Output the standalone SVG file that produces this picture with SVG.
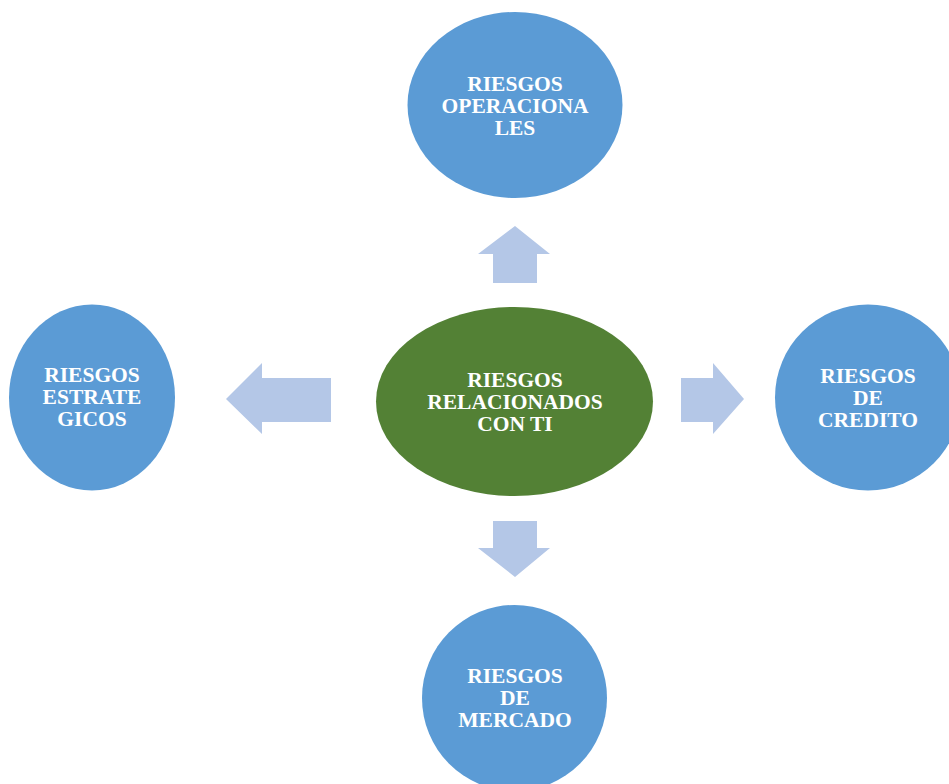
<svg xmlns="http://www.w3.org/2000/svg" width="949" height="784" viewBox="0 0 949 784">
<style>
.blue{fill:#5B9BD5}
.green{fill:#538135}
.arr{fill:#B4C7E7}
text{font-family:"Liberation Serif","Times New Roman",serif;font-weight:bold;font-size:21.5px;fill:#FFFFFF;text-anchor:middle}
</style>
<rect width="949" height="784" fill="#FFFFFF"/>
<g id="connectors">
<polygon class="arr" points="515,226 550,254 537,254 537,283 493,283 493,254 478,254"/>
<polygon class="arr" points="515,577 550,548 537,548 537,521 493,521 493,548 478,548"/>
<polygon class="arr" points="226,399 262,363 262,378 331,378 331,422 262,422 262,434"/>
<polygon class="arr" points="744,399 713,363 713,378 681,378 681,422 713,422 713,434"/>
</g>
<g id="center">
<ellipse class="green" cx="514.5" cy="401.5" rx="138.5" ry="94.5"/>
<text x="515" y="386.5">RIESGOS</text>
<text x="515" y="408.5">RELACIONADOS</text>
<text x="515" y="430.5">CON TI</text>
</g>
<g id="top">
<ellipse class="blue" cx="515" cy="105" rx="107.5" ry="93"/>
<text x="515" y="90.5">RIESGOS</text>
<text x="515" y="112.5">OPERACIONA</text>
<text x="515" y="134.5">LES</text>
</g>
<g id="left">
<ellipse class="blue" cx="92" cy="397.5" rx="83" ry="93"/>
<text x="92" y="381.5">RIESGOS</text>
<text x="92" y="403.5">ESTRATE</text>
<text x="92" y="425.5">GICOS</text>
</g>
<g id="right">
<ellipse class="blue" cx="868" cy="397.5" rx="93" ry="93"/>
<text x="868" y="382.5">RIESGOS</text>
<text x="868" y="404.5">DE</text>
<text x="868" y="426.5">CREDITO</text>
</g>
<g id="bottom">
<ellipse class="blue" cx="514.5" cy="698" rx="92.5" ry="93"/>
<text x="515" y="682.5">RIESGOS</text>
<text x="515" y="704.5">DE</text>
<text x="515" y="726.5">MERCADO</text>
</g>
</svg>
